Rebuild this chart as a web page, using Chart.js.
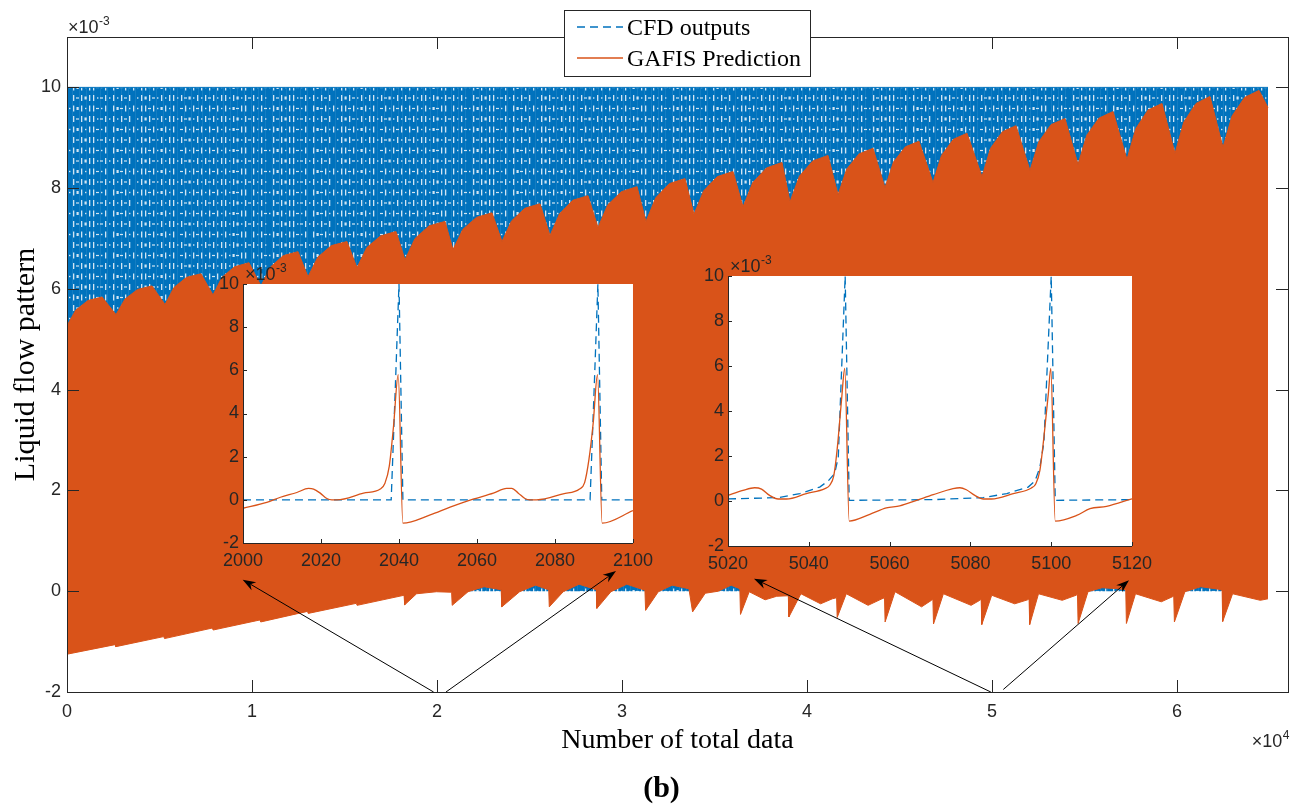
<!DOCTYPE html>
<html>
<head>
<meta charset="utf-8">
<script src="https://cdn.jsdelivr.net/npm/chart.js@4.4.1/dist/chart.umd.min.js"></script>
<style>
html,body{margin:0;padding:0;background:#ffffff;}
#wrap{position:relative;width:1303px;height:805px;overflow:hidden;}
canvas{position:absolute;}
#main{left:0;top:0;}
#in1{left:190px;top:250px;pointer-events:none;}
#in2{left:680px;top:245px;pointer-events:none;}
</style>
</head>
<body>
<div id="wrap">
<canvas id="main" width="1303" height="805"></canvas>
<canvas id="in1" width="470" height="330"></canvas>
<canvas id="in2" width="480" height="330"></canvas>
</div>
<script>
// ---------------- data (y values in units of 1e-3) ----------------
const SERIES_NAMES = ['CFD outputs', 'GAFIS Prediction'];
const X_TITLE = 'Number of total data';
const Y_TITLE = 'Liquid flow pattern';
const PANEL_LABEL = '(b)';

const MAIN_X_TICKS = [0, 10000, 20000, 30000, 40000, 50000, 60000];
const MAIN_Y_TICKS = [-2, 0, 2, 4, 6, 8, 10];

// CFD outputs: dense oscillation, envelope of the band
const CFD_MAX_X = [0, 64919];
const CFD_MAX_Y = [10, 10];
const CFD_MIN_X = [0, 64919];
const CFD_MIN_Y = [0, 0];

// GAFIS prediction: upper envelope of the dense band
const GAFIS_MAX_X = [0,473,1135,1892,2649,3136,3817,4595,5297,5784,6465,7243,7892,8379,9060,9838,
 10486,10986,11686,12486,13027,13554,14292,15135,15676,16203,16941,17784,18270,18811,19567,20432,
 20865,21392,22130,22973,23514,24028,24746,25568,26108,26622,27340,28162,28703,29230,29968,30811,
 31297,31824,32562,33405,33892,34419,35157,36000,36541,37068,37806,38649,39081,39595,40313,41135,
 41676,42149,42811,43568,44216,44676,45319,46054,46811,47271,47914,48649,49459,49919,50562,51297,
 52054,52527,53189,53946,54649,55122,55784,56541,57297,57770,58432,59189,59892,60365,61027,61784,
 62486,62973,63654,64432,64919];
const GAFIS_MAX_Y = [5.27,5.58,5.77,5.84,5.49,5.80,5.99,6.06,5.69,6.03,6.23,6.30,5.88,6.23,6.44,6.52,
 6.06,6.43,6.66,6.74,6.24,6.63,6.86,6.94,6.42,6.82,7.05,7.14,6.58,7.00,7.25,7.34,
 6.78,7.18,7.42,7.51,6.94,7.35,7.60,7.69,7.06,7.49,7.76,7.85,7.22,7.67,7.93,8.03,
 7.34,7.81,8.09,8.19,7.48,7.95,8.23,8.33,7.63,8.11,8.40,8.51,7.73,8.24,8.54,8.65,
 7.87,8.38,8.68,8.79,8.01,8.52,8.82,8.93,8.11,8.65,8.97,9.09,8.23,8.79,9.12,9.24,
 8.35,8.92,9.26,9.38,8.47,9.05,9.39,9.52,8.57,9.18,9.55,9.68,8.69,9.31,9.68,9.82,
 8.81,9.43,9.80,9.94,9.60];

// GAFIS prediction: lower envelope of the dense band
const GAFIS_MIN_X = [0,2600,2640,5230,5270,7860,7900,10430,10470,13000,13040,15640,15680,18220,18254,
 18897,19968,20790,20822,21676,22541,23470,23503,24465,25320,26040,26070,26822,27676,28610,28643,
 29400,30257,31240,31276,31962,32710,33616,33816,34500,35200,35900,36370,36405,36876,37735,38362,
 38990,39022,39670,40735,41373,41600,41632,42124,43303,44054,44190,44222,44757,46195,46730,46805,
 46838,47373,48870,49340,49415,49449,49984,51227,51929,52005,52038,52514,53795,54546,54620,54654,
 55189,55946,56811,57230,57265,57757,59151,59751,59825,59859,60427,61286,62254,62440,62470,63005,
 64503,64919];
const GAFIS_MIN_Y = [-1.25,-1.06,-1.10,-0.90,-0.94,-0.73,-0.77,-0.57,-0.61,-0.40,-0.44,-0.24,-0.28,-0.08,-0.27,
 -0.05,-0.01,-0.02,-0.28,-0.01,0.09,0.03,-0.31,-0.01,0.12,0.03,-0.31,-0.01,0.14,0.03,-0.34,
 -0.01,0.14,0.02,-0.38,-0.01,0.12,0.05,-0.41,-0.04,0.00,0.12,0.05,-0.46,-0.01,-0.17,-0.10,
 -0.09,-0.51,-0.05,-0.25,-0.15,-0.13,-0.52,-0.05,-0.28,-0.15,-0.13,-0.61,-0.01,-0.31,-0.18,-0.16,
 -0.65,-0.05,-0.28,-0.18,-0.16,-0.66,-0.08,-0.25,-0.17,-0.15,-0.66,-0.05,-0.18,-0.08,-0.06,-0.64,
 -0.01,0.07,0.05,0.03,-0.64,-0.05,-0.21,-0.11,-0.10,-0.61,-0.01,0.09,0.04,0.02,-0.60,-0.05,
 -0.18,-0.15];

// Inset 1: samples 2000-2100
const INSET1_RANGE = [2000, 2100];
const INSET1_X_TICKS = [2000, 2020, 2040, 2060, 2080, 2100];
const INSET1_CFD_X = [2000,2038,2039,2040,2041,2089,2090,2091,2092,2100];
const INSET1_CFD_Y = [0,0,4.9,10,0,0,4.9,10,0,0];
const INSET1_GAFIS_X = [2000,2006.1,2009.6,2013.8,2016.8,2018.1,2019.8,2021.5,2022.8,2024.1,2030.9,2035.2,
 2036.4,2037.5,2038.6,2039.8,2041.0,2048.0,2053.1,2059.0,2064.2,2067.6,2068.9,2070.6,2072.3,2073.5,
 2075.3,2082.1,2086.3,2087.6,2088.7,2089.8,2090.9,2092.1,2100];
const INSET1_GAFIS_Y = [-0.39,-0.12,0.12,0.34,0.53,0.50,0.31,0.06,0.0,0.0,0.31,0.50,
 0.77,1.55,3.41,5.80,-1.08,-0.70,-0.34,0.03,0.31,0.53,0.53,0.31,0.06,0.0,
 0.0,0.28,0.50,0.80,1.86,3.56,5.80,-1.08,-0.50];

// Inset 2: samples 5020-5120
const INSET2_RANGE = [5020, 5120];
const INSET2_X_TICKS = [5020, 5040, 5060, 5080, 5100, 5120];
const INSET2_CFD_X = [5020,5032.4,5037.8,5042.7,5044.8,5046.4,5047.3,5049,5050,5070.8,5083.2,5089,
 5094.3,5096,5097.2,5098.2,5100,5101,5120];
const INSET2_CFD_Y = [0.09,0.15,0.33,0.62,0.89,1.22,1.96,10,0.03,0.06,0.15,0.33,
 0.62,0.89,1.5,2.6,10,0.03,0.06];
const INSET2_GAFIS_X = [5020,5023.7,5026.6,5028.3,5030.3,5032.4,5034.5,5039.4,5044.0,5045.2,5046.2,5047.0,
 5048.1,5048.9,5050.0,5055.1,5059.2,5062.5,5066.7,5070.8,5075.7,5077.4,5079.0,5081.1,5083.2,5085.2,
 5090.6,5095.1,5096.2,5097.2,5098.2,5099.3,5099.9,5101.0,5106.3,5109.6,5113.7,5120];
const INSET2_GAFIS_Y = [0.25,0.47,0.59,0.53,0.25,0.09,0.09,0.33,0.55,0.70,1.14,2.26,
 4.48,5.89,-0.89,-0.59,-0.31,-0.22,0.03,0.28,0.55,0.59,0.50,0.25,0.09,0.09,
 0.33,0.58,0.77,1.36,2.85,4.78,5.89,-0.89,-0.64,-0.34,-0.24,0.10];
const INSET_Y_TICKS = [-2, 0, 2, 4, 6, 8, 10];

// Arrows (main-axes data coordinates): tail -> head
const ARROW_TAIL_X = [19816, 20486, 49935, 50611];
const ARROW_TAIL_Y = [-2.0, -2.0, -2.0, -1.95];
const ARROW_HEAD_X = [9497, 29676, 37135, 57405];
const ARROW_HEAD_Y = [0.23, 0.40, 0.25, 0.22];

// ---------------- styling ----------------
const BLUE = '#0072BD';
const ORANGE = '#D95319';
const AXIS = '#262626';
const SANS = '"Liberation Sans Narrow", "Arial Narrow", "Liberation Sans", sans-serif';
const TICK_FONT = {family: SANS, size: 18};
const SERIF = '"Liberation Serif", "Times New Roman", serif';

const pts = (xs, ys) => xs.map((x, i) => ({x: x, y: ys[i]}));

// texture of the dense dashed CFD band
const ROW_A = '|.|-|.|.o-|| |.|-.|o|.||-.| |o-|.|.||-|.o|.| -|.|-';
const ROW_B = '.|-|.||.|o.|-|.|. |-|o||.-|.|.|-| .|o|-.|.||.|-o.|';
function makeBluePattern(ctx) {
  const n = Math.max(ROW_A.length, ROW_B.length);
  const c = document.createElement('canvas');
  c.width = n * 4; c.height = 21;
  const g = c.getContext('2d');
  g.fillStyle = BLUE; g.fillRect(0, 0, c.width, c.height);
  g.fillStyle = 'rgba(255,255,255,0.82)';
  [[3.5, ROW_A], [14, ROW_B]].forEach(([cy, s]) => {
    for (let i = 0; i < s.length; i++) {
      const x = i * 4 + 1, ch = s[i];
      if (ch === '|') g.fillRect(x, cy - 3, 1.3, 6);
      else if (ch === '-') g.fillRect(x - 1, cy - 0.6, 3, 1.2);
      else if (ch === '.') g.fillRect(x, cy - 0.7, 1.4, 1.4);
      else if (ch === 'o') g.fillRect(x - 0.5, cy - 1.5, 2.2, 3);
    }
  });
  g.fillStyle = 'rgba(255,255,255,0.08)';
  for (let x = 2; x < c.width; x += 7) g.fillRect(x, 0, 1, c.height);
  return ctx.createPattern(c, 'repeat');
}

function drawTimes10(ctx, x, y, exp, align) {
  ctx.save();
  ctx.fillStyle = AXIS;
  ctx.textBaseline = 'alphabetic';
  ctx.font = '18px ' + SANS;
  const base = '\u00D710';
  const wb = ctx.measureText(base).width;
  ctx.font = '12px ' + SANS;
  const we = ctx.measureText(exp).width;
  const x0 = align === 'right' ? x - wb - we : x;
  ctx.font = '18px ' + SANS;
  ctx.textAlign = 'left';
  ctx.fillText(base, x0, y);
  ctx.font = '12px ' + SANS;
  ctx.fillText(exp, x0 + wb + 0.5, y - 8);
  ctx.restore();
}

function drawInwardTicks(chart, len, box) {
  const ctx = chart.ctx, a = chart.chartArea;
  const xs = chart.scales.x, ys = chart.scales.y;
  ctx.save();
  ctx.strokeStyle = AXIS; ctx.lineWidth = 1;
  ctx.beginPath();
  xs.ticks.forEach(t => {
    const px = Math.round(xs.getPixelForValue(t.value)) + 0.5;
    ctx.moveTo(px, a.bottom); ctx.lineTo(px, a.bottom - len);
    if (box) { ctx.moveTo(px, a.top); ctx.lineTo(px, a.top + len); }
  });
  ys.ticks.forEach(t => {
    const py = Math.round(ys.getPixelForValue(t.value)) + 0.5;
    ctx.moveTo(a.left, py); ctx.lineTo(a.left + len, py);
    if (box) { ctx.moveTo(a.right, py); ctx.lineTo(a.right - len, py); }
  });
  ctx.stroke();
  ctx.restore();
}

function drawArrow(ctx, x1, y1, x2, y2) {
  const ang = Math.atan2(y2 - y1, x2 - x1);
  const L = 13, W = 4.6, N = 9;
  ctx.save();
  ctx.strokeStyle = '#000'; ctx.fillStyle = '#000'; ctx.lineWidth = 1;
  ctx.beginPath();
  ctx.moveTo(x1, y1);
  ctx.lineTo(x2 - Math.cos(ang) * N, y2 - Math.sin(ang) * N);
  ctx.stroke();
  ctx.translate(x2, y2); ctx.rotate(ang);
  ctx.beginPath();
  ctx.moveTo(0, 0); ctx.lineTo(-L, -W); ctx.lineTo(-N, 0); ctx.lineTo(-L, W); ctx.closePath();
  ctx.fill();
  ctx.restore();
}

const mainDecor = {
  id: 'mainDecor',
  afterDraw(chart) {
    const ctx = chart.ctx, a = chart.chartArea;
    ctx.save();
    ctx.strokeStyle = AXIS; ctx.lineWidth = 1;
    ctx.strokeRect(Math.round(a.left) + 0.5, Math.round(a.top) + 0.5,
                   Math.round(a.right - a.left), Math.round(a.bottom - a.top));
    ctx.restore();
    drawInwardTicks(chart, 12, true);
    drawTimes10(ctx, a.left + 1, a.top - 4, '-3', 'left');
    drawTimes10(ctx, a.right + 1, a.bottom + 55, '4', 'right');
    // arrows
    const xs = chart.scales.x, ys = chart.scales.y;
    for (let i = 0; i < ARROW_TAIL_X.length; i++) {
      drawArrow(ctx, xs.getPixelForValue(ARROW_TAIL_X[i]), ys.getPixelForValue(ARROW_TAIL_Y[i]),
                xs.getPixelForValue(ARROW_HEAD_X[i]), ys.getPixelForValue(ARROW_HEAD_Y[i]));
    }
    // legend
    const lx = 564.5, ly = 10.5, lw = 246, lh = 66;
    ctx.save();
    ctx.fillStyle = '#fff'; ctx.fillRect(lx, ly, lw, lh);
    ctx.strokeStyle = AXIS; ctx.lineWidth = 1; ctx.strokeRect(lx, ly, lw, lh);
    ctx.lineWidth = 1.3;
    ctx.strokeStyle = BLUE; ctx.setLineDash([8, 5]);
    ctx.beginPath(); ctx.moveTo(577, 27); ctx.lineTo(623, 27); ctx.stroke();
    ctx.setLineDash([]);
    ctx.strokeStyle = ORANGE;
    ctx.beginPath(); ctx.moveTo(577, 58); ctx.lineTo(623, 58); ctx.stroke();
    ctx.fillStyle = '#000'; ctx.font = '24px ' + SERIF; ctx.textBaseline = 'alphabetic';
    ctx.fillText(SERIES_NAMES[0], 627, 35);
    ctx.fillText(SERIES_NAMES[1], 627, 66);
    // panel label
    ctx.font = 'bold 30px ' + SERIF; ctx.textAlign = 'center'; ctx.textBaseline = 'alphabetic';
    ctx.fillText(PANEL_LABEL, 661.5, 797);
    ctx.restore();
  }
};

const insetDecor = {
  id: 'insetDecor',
  beforeDatasetsDraw(chart) {
    const ctx = chart.ctx, a = chart.chartArea;
    ctx.save(); ctx.fillStyle = '#fff';
    ctx.fillRect(a.left, a.top, a.right - a.left, a.bottom - a.top);
    ctx.restore();
  },
  afterDraw(chart) {
    const ctx = chart.ctx, a = chart.chartArea;
    ctx.save(); ctx.strokeStyle = AXIS; ctx.lineWidth = 1;
    ctx.beginPath();
    ctx.moveTo(Math.round(a.left) + 0.5, a.top); ctx.lineTo(Math.round(a.left) + 0.5, Math.round(a.bottom) + 0.5);
    ctx.lineTo(a.right, Math.round(a.bottom) + 0.5);
    ctx.stroke(); ctx.restore();
    drawInwardTicks(chart, 4, false);
    drawTimes10(ctx, a.left + 2, a.top - 4, '-3', 'left');
  }
};

// ---------------- main chart ----------------
const mainCanvas = document.getElementById('main');
const bluePattern = makeBluePattern(mainCanvas.getContext('2d'));

new Chart(mainCanvas, {
  type: 'line',
  data: {
    datasets: [
      {label: SERIES_NAMES[1], data: pts(GAFIS_MIN_X, GAFIS_MIN_Y), borderColor: ORANGE,
       backgroundColor: ORANGE, borderWidth: 1, pointRadius: 0, fill: false, tension: 0},
      {label: SERIES_NAMES[1], data: pts(GAFIS_MAX_X, GAFIS_MAX_Y), borderColor: ORANGE,
       backgroundColor: ORANGE, borderWidth: 1, pointRadius: 0, fill: '-1', tension: 0},
      {label: SERIES_NAMES[0], data: pts(CFD_MIN_X, CFD_MIN_Y), borderColor: BLUE,
       backgroundColor: BLUE, borderWidth: 0, pointRadius: 0, fill: false},
      {label: SERIES_NAMES[0], data: pts(CFD_MAX_X, CFD_MAX_Y), borderColor: BLUE,
       backgroundColor: bluePattern, borderWidth: 1, pointRadius: 0, fill: '-1'}
    ]
  },
  options: {
    responsive: false, animation: false, devicePixelRatio: 1,
    events: [],
    layout: {padding: {top: 37, right: 15, left: 0, bottom: 36}},
    plugins: {legend: {display: false}, tooltip: {enabled: false}, title: {display: false}},
    scales: {
      x: {
        type: 'linear', min: 0, max: 66000,
        afterBuildTicks: s => { s.ticks = MAIN_X_TICKS.map(v => ({value: v})); },
        ticks: {callback: v => String(v / 10000), font: TICK_FONT, color: AXIS, padding: 9,
                maxRotation: 0, autoSkip: false},
        grid: {display: false, drawTicks: false}, border: {display: false},
        title: {display: true, text: X_TITLE, color: '#000', font: {family: SERIF, size: 28},
                padding: {top: 0, bottom: 12}},
        afterFit: s => { s.height = 77; }
      },
      y: {
        type: 'linear', min: -2, max: 11,
        afterBuildTicks: s => { s.ticks = MAIN_Y_TICKS.map(v => ({value: v})); },
        ticks: {callback: v => String(v), font: TICK_FONT, color: AXIS, padding: 6},
        grid: {display: false, drawTicks: false}, border: {display: false},
        title: {display: true, text: Y_TITLE, color: '#000', font: {family: SERIF, size: 30},
                padding: {top: 8, bottom: 0}},
        afterFit: s => { s.width = 67; }
      }
    }
  },
  plugins: [mainDecor]
});

// ---------------- insets ----------------
function makeInset(id, range, xTicks, gx, gy, cx, cy, pad, yWidth, xHeight) {
  new Chart(document.getElementById(id), {
    type: 'line',
    data: {
      datasets: [
        {label: SERIES_NAMES[1], data: pts(gx, gy), borderColor: ORANGE, borderWidth: 1.3,
         pointRadius: 0, fill: false, cubicInterpolationMode: 'monotone'},
        {label: SERIES_NAMES[0], data: pts(cx, cy), borderColor: BLUE, borderWidth: 1.3,
         borderDash: [8, 5], pointRadius: 0, fill: false, tension: 0}
      ]
    },
    options: {
      responsive: false, animation: false, devicePixelRatio: 1, events: [],
      layout: {padding: pad},
      plugins: {legend: {display: false}, tooltip: {enabled: false}, title: {display: false}},
      scales: {
        x: {
          type: 'linear', min: range[0], max: range[1],
          afterBuildTicks: s => { s.ticks = xTicks.map(v => ({value: v})); },
          ticks: {callback: v => String(v), font: TICK_FONT, color: AXIS, padding: 7,
                  maxRotation: 0, autoSkip: false},
          grid: {display: false, drawTicks: false}, border: {display: false},
          afterFit: s => { s.height = xHeight; }
        },
        y: {
          type: 'linear', min: -2, max: 10,
          afterBuildTicks: s => { s.ticks = INSET_Y_TICKS.map(v => ({value: v})); },
          ticks: {callback: v => String(v), font: TICK_FONT, color: AXIS, padding: 4},
          grid: {display: false, drawTicks: false}, border: {display: false},
          afterFit: s => { s.width = yWidth; }
        }
      }
    },
    plugins: [insetDecor]
  });
}

makeInset('in1', INSET1_RANGE, INSET1_X_TICKS, INSET1_GAFIS_X, INSET1_GAFIS_Y, INSET1_CFD_X, INSET1_CFD_Y,
          {top: 34, right: 27, left: 0, bottom: 0}, 53, 37);
makeInset('in2', INSET2_RANGE, INSET2_X_TICKS, INSET2_GAFIS_X, INSET2_GAFIS_Y, INSET2_CFD_X, INSET2_CFD_Y,
          {top: 31, right: 28, left: 0, bottom: 0}, 48, 29);
</script>
</body>
</html>
